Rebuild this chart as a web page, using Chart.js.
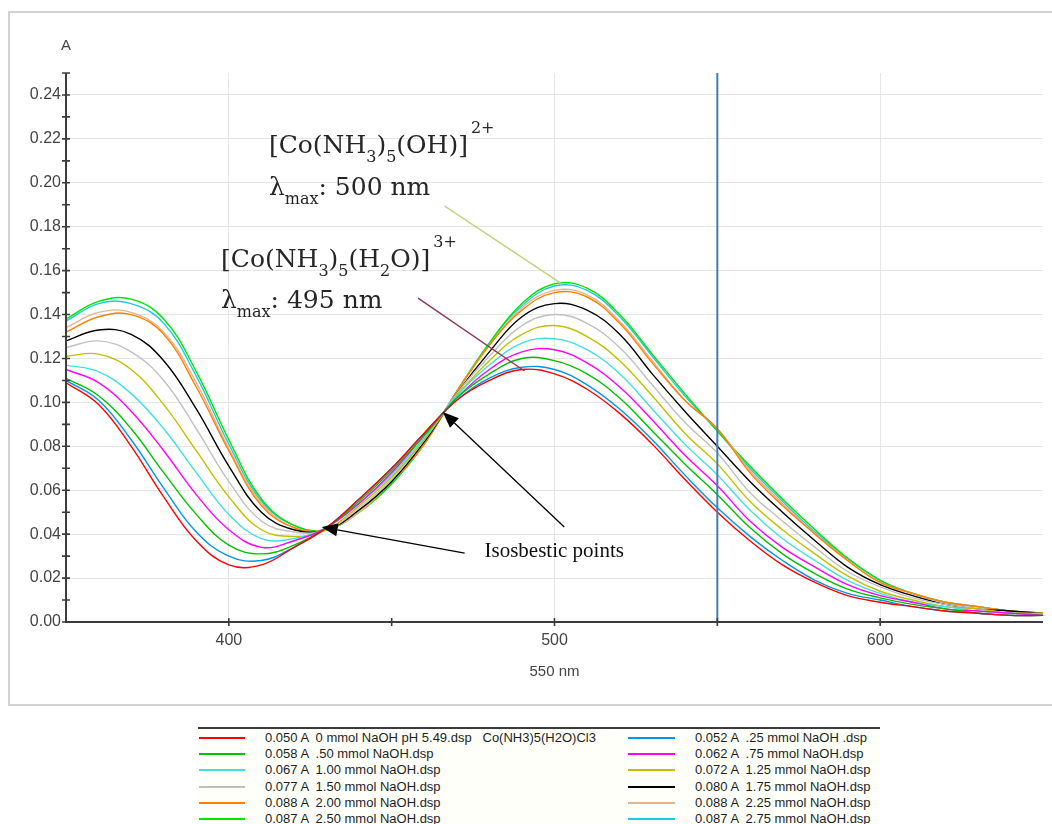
<!DOCTYPE html>
<html><head><meta charset="utf-8">
<script src="https://cdn.jsdelivr.net/npm/chart.js@4.4.1/dist/chart.umd.min.js"></script>
<style>
html,body{margin:0;padding:0;background:#fff;width:1052px;height:824px;overflow:hidden;}
#frame{position:absolute;left:8px;top:11px;width:1060px;height:691px;border:2px solid #d2d2d2;border-right:none;}
#wrap{position:absolute;left:0;top:0;width:1052px;height:824px;}
#legend{position:absolute;left:198px;top:727px;width:682px;height:110px;border-top:2px solid #3a3a3a;background:#fffffa;font-family:"Liberation Sans",Arial,sans-serif;font-size:13px;color:#1e1e1e;}
.row{position:absolute;height:16px;line-height:16px;white-space:pre;}
.sw{position:absolute;height:2px;}
</style></head><body>
<div id="frame"></div>
<div id="wrap"><canvas id="c"></canvas></div>
<div id="legend"></div>
<script>
// ---------- data ----------
const wavelengths = [350,360,370,380,390,400,410,420,430,440,450,460,470,480,490,500,510,520,530,540,550,560,570,580,590,600,610,620,630,640,650];
const seriesNames = ['0 mmol NaOH pH 5.49.dsp   Co(NH3)5(H2O)Cl3','.25 mmol NaOH .dsp','.50 mmol NaOH.dsp','.75 mmol NaOH.dsp','1.00 mmol NaOH.dsp','1.25 mmol NaOH.dsp','1.50 mmol NaOH.dsp','1.75 mmol NaOH.dsp','2.00 mmol NaOH.dsp','2.25 mmol NaOH.dsp','2.50 mmol NaOH.dsp','2.75 mmol NaOH.dsp'];
const readout550 = [0.050,0.052,0.058,0.062,0.067,0.072,0.077,0.080,0.088,0.088,0.087,0.087];
const seriesColors = ['#ff0000','#0096e6','#00c000','#ff00ff','#40e0e0','#c0c000','#c0c0c0','#000000','#ff8000','#e6b48c','#00e600','#20c8e0'];
const s000 = [.109,.099,.080,.057,.037,.026,.026,.034,.043,.056,.070,.086,.101,.110,.115,.113,.106,.095,.081,.065,.050,.037,.026,.018,.012,.009,.007,.005,.004,.003,.003];
const s025 = [.110,.101,.083,.061,.041,.030,.028,.034,.043,.056,.070,.086,.101,.111,.116,.115,.108,.097,.083,.067,.052,.039,.028,.019,.013,.010,.007,.005,.004,.003,.003];
const s050 = [.111,.103,.088,.068,.049,.035,.031,.035,.043,.055,.069,.085,.102,.113,.120,.119,.113,.102,.087,.072,.058,.043,.031,.022,.015,.011,.008,.006,.004,.003,.003];
const s075 = [.115,.109,.096,.078,.058,.042,.034,.037,.043,.054,.068,.085,.102,.115,.123,.124,.118,.107,.092,.076,.062,.046,.034,.025,.017,.012,.009,.006,.005,.004,.003];
const s100 = [.117,.114,.104,.088,.068,.049,.038,.038,.043,.054,.067,.084,.103,.117,.127,.129,.124,.113,.097,.081,.067,.051,.038,.028,.019,.013,.009,.007,.005,.004,.003];
const s125 = [.121,.122,.115,.099,.078,.057,.042,.039,.042,.053,.066,.083,.103,.119,.131,.135,.130,.119,.103,.086,.072,.055,.042,.031,.021,.014,.010,.007,.006,.004,.004];
const s150 = [.125,.128,.123,.110,.088,.064,.046,.041,.042,.052,.065,.083,.104,.121,.135,.140,.136,.125,.108,.091,.077,.059,.046,.034,.023,.016,.011,.008,.006,.004,.004];
const s175 = [.128,.133,.131,.119,.097,.071,.050,.042,.042,.051,.064,.082,.104,.123,.139,.145,.142,.131,.113,.096,.080,.064,.050,.037,.025,.017,.012,.008,.006,.005,.004];
const s200 = [.132,.139,.140,.131,.107,.078,.053,.043,.042,.051,.064,.081,.105,.126,.142,.150,.148,.136,.118,.101,.088,.068,.053,.040,.028,.018,.013,.009,.007,.005,.004];
const s225 = [.134,.141,.141,.132,.109,.079,.054,.043,.042,.050,.064,.081,.105,.126,.143,.151,.149,.137,.119,.101,.088,.069,.054,.040,.028,.018,.013,.009,.007,.005,.004];
const s250 = [.138,.146,.147,.138,.114,.083,.056,.044,.042,.050,.063,.081,.105,.127,.145,.154,.152,.140,.122,.104,.087,.071,.056,.042,.029,.019,.013,.009,.007,.005,.004];
const s275 = [.137,.145,.145,.136,.112,.081,.055,.044,.042,.050,.063,.081,.105,.127,.144,.153,.151,.139,.121,.103,.087,.070,.055,.041,.029,.019,.013,.009,.007,.005,.004];
const allSeries = [s000,s025,s050,s075,s100,s125,s150,s175,s200,s225,s250,s275];
const xLabelValues = [400,500,600];
const yLabelValues = [0,0.02,0.04,0.06,0.08,0.10,0.12,0.14,0.16,0.18,0.20,0.22,0.24];
const cursorNm = 550;
const cursorText = '550 nm';
const yAxisTitle = 'A';

// annotations (data coordinates)
const formula1 = [{t:'[Co(NH'},{t:'3',s:'sub'},{t:')'},{t:'5',s:'sub'},{t:'(OH)]'},{t:'2+',s:'sup'}];
const lambda1 = [{t:'λ'},{t:'max',s:'sub'},{t:': 500 nm'}];
const formula2 = [{t:'[Co(NH'},{t:'3',s:'sub'},{t:')'},{t:'5',s:'sub'},{t:'(H'},{t:'2',s:'sub'},{t:'O)]'},{t:'3+',s:'sup'}];
const lambda2 = [{t:'λ'},{t:'max',s:'sub'},{t:': 495 nm'}];
const richTexts = [
  {parts:formula1, at:[412.3,0.2136]},
  {parts:lambda1, at:[412.3,0.1944]},
  {parts:formula2, at:[397.6,0.1617]},
  {parts:lambda2, at:[397.6,0.1430]}
];
const leaders = [
  {from:[466.3,0.1894], to:[501.8,0.1544], color:'#c8d27c'},
  {from:[458.1,0.1475], to:[490.8,0.1143], color:'#8e3b52'}
];
const arrows = [
  {from:[472.4,0.0314], to:[428.5,0.0433]},
  {from:[503.0,0.0433], to:[465.7,0.0956]}
];
const isoText = {text:'Isosbestic points', at:[478.5,0.0296]};

// ---------- chart ----------
const datasets = allSeries.map((s,i)=>({
  label: seriesNames[i],
  data: s.map((v,j)=>({x:wavelengths[j], y:v})),
  borderColor: seriesColors[i],
  borderWidth: 1.4,
  pointRadius: 0,
  tension: 0.4,
  fill: false
}));

function drawRich(ctx, parts, x0, y0) {
  let cx = x0;
  for (const p of parts) {
    const small = !!p.s;
    ctx.font = (small ? '16px' : '25px') + ' "DejaVu Serif", serif';
    let dy = 0;
    if (p.s === 'sub') dy = 9;
    if (p.s === 'sup') { dy = -20; cx += 3; }
    ctx.fillText(p.t, cx, y0 + dy);
    cx += ctx.measureText(p.t).width;
  }
}

const overlay = {
  id: 'overlay',
  afterDatasetsDraw(chart) {
    const {ctx, chartArea: a, scales: {x, y}} = chart;
    const P = (d)=>[x.getPixelForValue(d[0]), y.getPixelForValue(d[1])];
    ctx.save();
    // cursor line
    const cx = x.getPixelForValue(cursorNm);
    ctx.strokeStyle = '#3f7fb0'; ctx.lineWidth = 2;
    ctx.beginPath(); ctx.moveTo(cx, a.top); ctx.lineTo(cx, a.bottom); ctx.stroke();
    // axes
    ctx.strokeStyle = '#3c3c3c'; ctx.lineWidth = 2;
    ctx.beginPath(); ctx.moveTo(a.left, a.top); ctx.lineTo(a.left, a.bottom + 1);
    ctx.moveTo(a.left - 1, a.bottom); ctx.lineTo(a.right, a.bottom); ctx.stroke();
    ctx.lineWidth = 1.6;
    ctx.beginPath();
    y.ticks.forEach(t => { const py = y.getPixelForValue(t.value); ctx.moveTo(a.left - 4, py); ctx.lineTo(a.left + 4, py); });
    x.ticks.forEach(t => { if (t.value <= x.min || t.value >= x.max) return; const px = x.getPixelForValue(t.value); ctx.moveTo(px, a.bottom - 4); ctx.lineTo(px, a.bottom + 4); });
    ctx.stroke();
    // axis texts
    ctx.fillStyle = '#444';
    ctx.font = '15px "Liberation Sans", Arial, sans-serif';
    ctx.textAlign = 'center'; ctx.textBaseline = 'middle';
    ctx.fillText(yAxisTitle, a.left, a.top - 27);
    ctx.fillText(cursorText, x.getPixelForValue(500), a.bottom + 50);
    // leader lines
    ctx.lineWidth = 1.5;
    leaders.forEach(l => {
      const [x1,y1] = P(l.from), [x2,y2] = P(l.to);
      ctx.strokeStyle = l.color;
      ctx.beginPath(); ctx.moveTo(x1,y1); ctx.lineTo(x2,y2); ctx.stroke();
    });
    // arrows
    ctx.strokeStyle = '#000'; ctx.fillStyle = '#000'; ctx.lineWidth = 1.3;
    arrows.forEach(ar => {
      const [x1,y1] = P(ar.from), [x2,y2] = P(ar.to);
      const ang = Math.atan2(y2-y1, x2-x1);
      const L = 16, W = 6.5;
      const bx = x2 - L*Math.cos(ang), by = y2 - L*Math.sin(ang);
      ctx.beginPath(); ctx.moveTo(x1,y1); ctx.lineTo(bx,by); ctx.stroke();
      ctx.beginPath(); ctx.moveTo(x2,y2);
      ctx.lineTo(bx + W*Math.sin(ang), by - W*Math.cos(ang));
      ctx.lineTo(bx - W*Math.sin(ang), by + W*Math.cos(ang));
      ctx.closePath(); ctx.fill();
    });
    // texts
    ctx.textAlign = 'left'; ctx.textBaseline = 'alphabetic';
    ctx.fillStyle = '#262626';
    richTexts.forEach(r => { const [px,py] = P(r.at); drawRich(ctx, r.parts, px, py); });
    ctx.fillStyle = '#111';
    ctx.font = '21px "Liberation Serif", "Times New Roman", serif';
    const [ix,iy] = P(isoText.at);
    ctx.fillText(isoText.text, ix, iy);
    ctx.restore();
  }
};

new Chart(document.getElementById('c'), {
  type: 'line',
  data: { datasets },
  options: {
    responsive: true, maintainAspectRatio: false, animation: false,
    layout: { padding: { left: 0, right: 3, top: 73, bottom: 142 } },
    plugins: { legend: { display: false }, tooltip: { enabled: false } },
    scales: {
      x: {
        type: 'linear', min: 350, max: 650,
        afterFit: s => { s.height = 60; },
        border: { display: false },
        grid: { drawTicks: false, lineWidth: 1,
          color: c => (c.tick && xLabelValues.includes(c.tick.value)) ? '#e6e6e6' : 'rgba(0,0,0,0)' },
        ticks: { stepSize: 50, autoSkip: false, maxRotation: 0, padding: 9, color: '#444',
          font: { family: 'Liberation Sans', size: 16 },
          callback: v => xLabelValues.includes(v) ? String(v) : '' }
      },
      y: {
        min: 0, max: 0.25,
        afterFit: s => { s.width = 66; },
        border: { display: false },
        grid: { drawTicks: false, lineWidth: 1,
          color: c => { if (!c.tick) return 'rgba(0,0,0,0)'; const k = Math.round(c.tick.value*100); return (k > 0 && k % 2 === 0) ? '#e6e6e6' : 'rgba(0,0,0,0)'; } },
        ticks: { stepSize: 0.01, autoSkip: false, padding: 5, color: '#444',
          font: { family: 'Liberation Sans', size: 16 },
          callback: v => { const k = Math.round(v*100); const hit = yLabelValues.some(l => Math.round(l*100) === k); return hit ? (k/100).toFixed(2) : ''; } }
      }
    }
  },
  plugins: [overlay]
});

// ---------- legend ----------
const leg = document.getElementById('legend');
seriesNames.forEach((n, i) => {
  const col = i % 2, row = Math.floor(i / 2);
  const top = Math.round(row * 16.2) + 1;
  const sw = document.createElement('div');
  sw.className = 'sw';
  sw.style.left = (col ? 430 : 1) + 'px';
  sw.style.width = (col ? 47 : 46) + 'px';
  sw.style.top = (top + 7) + 'px';
  sw.style.background = seriesColors[i];
  leg.appendChild(sw);
  const r = document.createElement('div');
  r.className = 'row';
  r.style.left = (col ? 497 : 67) + 'px';
  r.style.top = top + 'px';
  r.textContent = readout550[i].toFixed(3) + ' A  ' + n;
  leg.appendChild(r);
});
</script>
</body></html>
